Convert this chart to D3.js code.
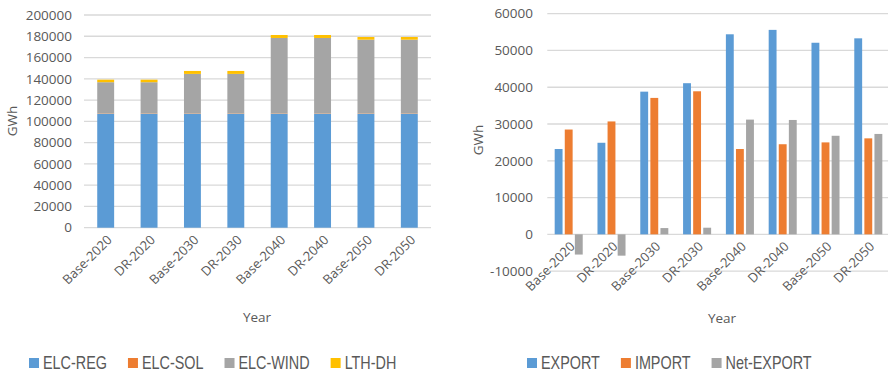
<!DOCTYPE html>
<html>
<head>
<meta charset="utf-8">
<script src="https://cdn.jsdelivr.net/npm/d3@7"></script>
<style>
  html, body { margin: 0; padding: 0; background: #fff; }
  svg { display: block; }
  .tick-label { font-family: "Open Sans", sans-serif; font-size: 13.5px; fill: #595959; }
  .cat-label { font-family: "Open Sans", sans-serif; font-size: 13px; fill: #595959; }
  .axis-title { font-family: "Open Sans", sans-serif; font-size: 13.5px; fill: #595959; }
  .legend-text { font-family: "Liberation Sans", Arial, sans-serif; font-size: 18px; fill: #595959; }
</style>
</head>
<body>
<svg id="chart" width="888" height="375"></svg>
<script>
// Scenario/year categories shared by both panels
const categories = ["Base-2020", "DR-2020", "Base-2030", "DR-2030", "Base-2040", "DR-2040", "Base-2050", "DR-2050"];

// Generation mix (GWh), stacked
const genSeries = ["ELC-REG", "ELC-SOL", "ELC-WIND", "LTH-DH"];
const elcReg  = [107000, 107000, 107000, 107000, 107000, 107000, 107000, 107000];
const elcSol  = [400, 400, 400, 400, 400, 400, 400, 400];
const elcWind = [29400, 29400, 37200, 37200, 71000, 71000, 69400, 69400];
const lthDh   = [2400, 2400, 2800, 2800, 2800, 2800, 2500, 2500];
const genTicks = [0, 20000, 40000, 60000, 80000, 100000, 120000, 140000, 160000, 180000, 200000];

// Cross-border trade (GWh), clustered
const tradeSeries = ["EXPORT", "IMPORT", "Net-EXPORT"];
const exportVals = [23200, 24900, 38800, 41100, 54400, 55600, 52100, 53300];
const importVals = [28500, 30700, 37100, 38900, 23200, 24500, 25000, 26100];
const netVals    = [-5500, -5800, 1700, 1800, 31200, 31100, 26800, 27300];
const tradeTicks = [-10000, 0, 10000, 20000, 30000, 40000, 50000, 60000];

const colors = { "ELC-REG": "#5b9bd5", "ELC-SOL": "#ed7d31", "ELC-WIND": "#a5a5a5", "LTH-DH": "#ffc000",
                 "EXPORT": "#5b9bd5", "IMPORT": "#ed7d31", "Net-EXPORT": "#a5a5a5" };
const gridColor = "#d9d9d9";
const legendSqueeze = 0.8; // condensed legend lettering

const svg = d3.select("#chart");

function drawLegend(g, names, x0, y) {
  let x = x0;
  names.forEach(name => {
    g.append("rect").attr("x", x).attr("y", y - 5).attr("width", 10).attr("height", 10)
      .attr("fill", colors[name]);
    const t = g.append("text").attr("class", "legend-text")
      .attr("transform", `translate(${x + 14},${y}) scale(${legendSqueeze},1)`)
      .attr("dy", "0.35em").text(name);
    x += 14 + t.node().getComputedTextLength() * legendSqueeze + 21;
  });
}

function drawCatLabels(g, x, yBase) {
  categories.forEach(c => {
    const cx = x(c) + x.bandwidth() / 2;
    g.append("text").attr("class", "cat-label")
      .attr("text-anchor", "end")
      .attr("transform", `translate(${cx + 7},${yBase + 13}) rotate(-45)`)
      .text(c);
  });
}

// ---------- Left panel: stacked generation ----------
{
  const g = svg.append("g");
  const x = d3.scaleBand().domain(categories).range([84, 431]).paddingInner(0.61).paddingOuter(0.305);
  const y = d3.scaleLinear().domain([0, 200000]).range([227.7, 15]);

  g.selectAll(".grid").data(genTicks).join("line")
    .attr("x1", 84).attr("x2", 431)
    .attr("y1", d => y(d)).attr("y2", d => y(d))
    .attr("stroke", gridColor).attr("stroke-width", 1.3);

  g.selectAll(".ylab").data(genTicks).join("text")
    .attr("class", "tick-label").attr("text-anchor", "end")
    .attr("x", 72).attr("y", d => y(d)).attr("dy", "0.35em")
    .text(d => d);

  const rows = categories.map((c, i) => ({
    cat: c, "ELC-REG": elcReg[i], "ELC-SOL": elcSol[i], "ELC-WIND": elcWind[i], "LTH-DH": lthDh[i]
  }));
  const stacked = d3.stack().keys(genSeries)(rows);
  g.selectAll(".layer").data(stacked).join("g")
    .attr("fill", d => colors[d.key])
    .selectAll("rect").data(d => d).join("rect")
    .attr("x", d => x(d.data.cat))
    .attr("width", x.bandwidth())
    .attr("y", d => y(d[1]))
    .attr("height", d => y(d[0]) - y(d[1]));

  drawCatLabels(g, x, 227.7);

  g.append("text").attr("class", "axis-title").attr("text-anchor", "middle")
    .attr("x", 257).attr("y", 317).attr("dy", "0.35em").text("Year");
  g.append("text").attr("class", "axis-title").attr("text-anchor", "middle")
    .attr("transform", "translate(12.5,121) rotate(-90)").attr("dy", "0.35em").text("GWh");

  drawLegend(g, genSeries, 29, 363);
}

// ---------- Right panel: clustered trade ----------
{
  const g = svg.append("g");
  const x0 = d3.scaleBand().domain(categories).range([547.3, 889.7]).paddingInner(0.345).paddingOuter(0.1725);
  const x1 = d3.scaleBand().domain(tradeSeries).range([0, x0.bandwidth()]).paddingInner(0.22);
  const y = d3.scaleLinear().domain([-10000, 60000]).range([271.1, 13.7]);

  g.selectAll(".grid").data(tradeTicks).join("line")
    .attr("x1", 547.3).attr("x2", 888)
    .attr("y1", d => y(d)).attr("y2", d => y(d))
    .attr("stroke", gridColor).attr("stroke-width", 1.3);

  g.selectAll(".ylab").data(tradeTicks).join("text")
    .attr("class", "tick-label").attr("text-anchor", "end")
    .attr("x", 533).attr("y", d => y(d)).attr("dy", "0.35em")
    .text(d => d);

  const rows = categories.map((c, i) => ({
    cat: c, values: [
      { key: "EXPORT", v: exportVals[i] },
      { key: "IMPORT", v: importVals[i] },
      { key: "Net-EXPORT", v: netVals[i] }
    ]
  }));
  g.selectAll(".grp").data(rows).join("g")
    .attr("transform", d => `translate(${x0(d.cat)},0)`)
    .selectAll("rect").data(d => d.values).join("rect")
    .attr("x", d => x1(d.key))
    .attr("width", x1.bandwidth())
    .attr("y", d => y(Math.max(0, d.v)))
    .attr("height", d => Math.abs(y(d.v) - y(0)))
    .attr("fill", d => colors[d.key]);

  drawCatLabels(g, x0, y(0));

  g.append("text").attr("class", "axis-title").attr("text-anchor", "middle")
    .attr("x", 722).attr("y", 318).attr("dy", "0.35em").text("Year");
  g.append("text").attr("class", "axis-title").attr("text-anchor", "middle")
    .attr("transform", "translate(478,140) rotate(-90)").attr("dy", "0.35em").text("GWh");

  drawLegend(g, tradeSeries, 527, 363);
}
</script>
</body>
</html>
